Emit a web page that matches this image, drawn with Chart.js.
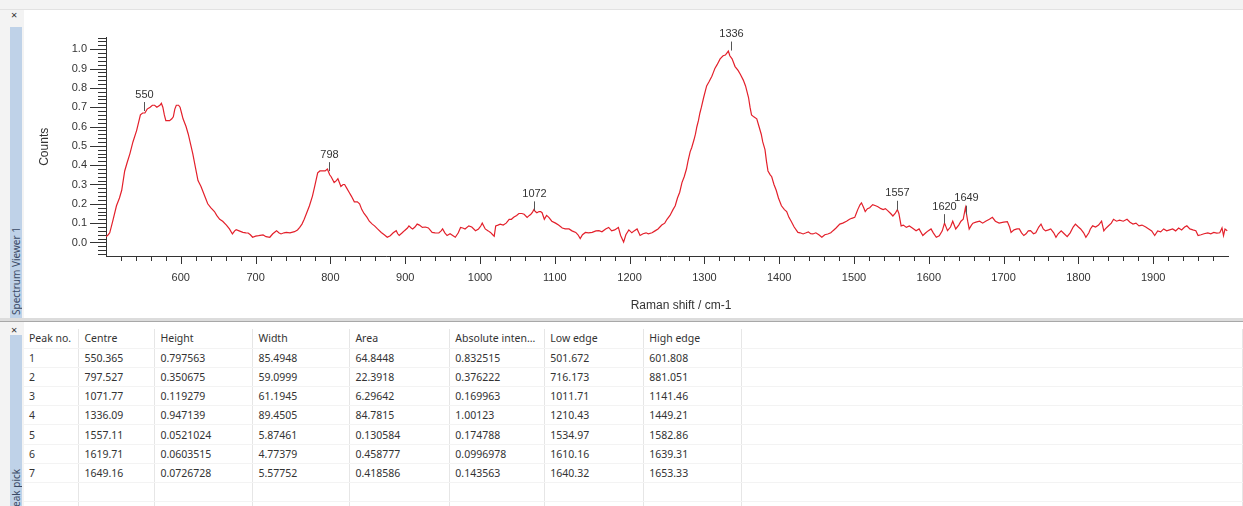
<!DOCTYPE html>
<html>
<head>
<meta charset="utf-8">
<script src="https://cdn.jsdelivr.net/npm/chart.js@4.4.1/dist/chart.umd.min.js"></script>
<style>
  body { margin: 0; width: 1243px; height: 506px; overflow: hidden; background: #fff; position: relative; font-family: 'Noto Sans', sans-serif; }
  .topbar { position: absolute; left: 0; top: 0; width: 1243px; height: 9px; background: #f3f3f3; border-bottom: 1px solid #e2e2e2; }
  .side { position: absolute; left: 0; width: 24px; background: #f3f3f3; }
  .close { position: absolute; left: 11px; font-size: 11px; line-height: 11px; color: #333; }
  .tab { position: absolute; left: 10px; width: 12px; background: #bfd2e8; overflow: hidden; }
  .tab span { position: absolute; left: 0; transform: rotate(-90deg); transform-origin: left top; white-space: nowrap; font-size: 10px; line-height: 12px; color: #3a4a66; }
  .divider { position: absolute; left: 0; top: 318px; width: 1243px; height: 3px; background: #dcdcdc; border-bottom: 1px solid #a8a8a8; }
  #chart-raman { position: absolute; left: 22px; top: 12px; }
  table { position: absolute; left: 24px; top: 329px; border-collapse: collapse; font-size: 10.5px; color: #333; }
  td { height: 19.2px; padding: 0 0 0 5px; border-right: 1px solid #e6e6e6; border-bottom: 1px solid #f3f3f3; white-space: nowrap; box-sizing: border-box; }
</style>
</head>
<body>
<div class="topbar"></div>
<div class="side" style="top:10px;height:308px"></div>
<div class="close" style="top:9px">×</div>
<div class="tab" style="top:27px;height:291px"><span style="top:288px">Spectrum Viewer 1</span></div>
<canvas id="chart-raman" width="1221" height="306" style="width:1221px;height:306px"></canvas>
<div class="divider"></div>
<div class="side" style="top:322px;height:184px"></div>
<div class="close" style="top:324px">×</div>
<div class="tab" style="top:335px;height:171px"><span style="top:178px">Peak pick</span></div>
<table id="peak-table"></table>

<script>
/* ---------- Espectro Raman ---------- */
const ramanShift = [
  500,503,505,509,514,518,521,525,528,532,536,541,546,549,552,555,559,562,565,568,572,574,576,578,580,583,585,588,590,592,594,597,599,
  601,603,607,610,613,616,620,623,627,630,633,636,640,645,648,652,656,661,665,669,672,674,678,683,687,690,693,696,700,
  704,710,714,719,723,728,731,734,738,741,746,752,756,759,762,765,768,772,776,779,783,786,790,793,796,799,
  801,805,808,810,812,814,817,819,822,825,828,832,836,839,842,845,849,852,856,859,863,868,872,876,880,884,888,890,892,896,899,
  903,905,908,910,913,916,919,923,927,931,936,940,945,948,950,953,956,960,964,967,971,974,977,980,985,989,994,998,
  1001,1003,1007,1011,1014,1017,1019,1021,1024,1027,1031,1035,1039,1042,1045,1049,1052,1056,1059,1063,1066,1068,1070,1072,1074,1076,1079,1081,1083,1086,1089,1092,1096,
  1101,1105,1110,1114,1119,1123,1128,1131,1134,1137,1141,1145,1150,1155,1159,1163,1168,1172,1176,1180,1185,1188,1192,1195,1199,
  1203,1206,1210,1214,1218,1222,1225,1230,1234,1238,1243,1247,1250,1254,1258,1261,1264,1267,1270,1273,1276,1278,1281,1283,1286,1288,1290,1292,1294,1296,1299,
  1303,1306,1310,1312,1314,1317,1321,1325,1328,1330,1332,1334,1337,1341,1345,1348,1352,1355,1359,1361,1363,1366,1370,1373,1376,1378,1381,1383,1385,1388,1390,1393,1396,1399,
  1403,1407,1410,1413,1416,1420,1425,1428,1432,1436,1439,1442,1445,1449,1453,1457,1461,1465,1469,1472,1476,1481,1485,1490,1494,1497,
  1501,1503,1505,1508,1510,1513,1515,1518,1521,1525,1529,1532,1536,1539,1542,1545,1549,1552,1555,1558,1560,1563,1566,1570,1574,1578,1583,1587,1592,1596,1599,
  1603,1606,1610,1614,1618,1621,1625,1629,1632,1636,1640,1643,1646,1649,1652,1654,1657,1659,1663,1668,1672,1676,1681,1685,1689,1694,1700,
  1705,1708,1710,1714,1718,1721,1724,1727,1730,1733,1736,1740,1743,1747,1750,1753,1756,1760,1763,1767,1770,1773,1777,1781,1785,1789,1793,1796,1800,
  1803,1807,1810,1814,1816,1819,1823,1827,1831,1834,1836,1840,1844,1847,1851,1855,1860,1865,1869,1873,1877,1881,1885,1890,1894,1898,
  1902,1906,1910,1914,1918,1922,1926,1930,1934,1938,1942,1945,1949,1953,1957,1960,1964,1968,1973,1977,1981,1985,1989,1992,1994,1996,1999
];
const counts = [
  0.03,0.04,0.05,0.11,0.19,0.23,0.27,0.37,0.41,0.46,0.52,0.58,0.66,0.67,0.67,0.69,0.70,0.71,0.71,0.70,0.71,0.72,0.70,0.66,0.63,0.63,0.63,0.64,0.65,0.69,0.71,0.71,0.70,
  0.67,0.64,0.60,0.56,0.51,0.46,0.38,0.32,0.29,0.26,0.23,0.20,0.18,0.16,0.14,0.12,0.11,0.09,0.07,0.044,0.06,0.066,0.06,0.052,0.05,0.049,0.04,0.027,0.033,
  0.035,0.039,0.03,0.027,0.045,0.061,0.05,0.044,0.05,0.052,0.05,0.056,0.065,0.078,0.095,0.12,0.15,0.19,0.24,0.29,0.36,0.37,0.37,0.37,0.38,0.35,
  0.34,0.31,0.32,0.33,0.31,0.29,0.30,0.30,0.28,0.26,0.24,0.21,0.21,0.20,0.17,0.15,0.13,0.11,0.095,0.086,0.07,0.052,0.04,0.027,0.035,0.05,0.061,0.045,0.036,0.05,0.061,
  0.075,0.086,0.075,0.07,0.08,0.095,0.09,0.078,0.08,0.075,0.052,0.05,0.049,0.06,0.07,0.05,0.036,0.045,0.035,0.027,0.05,0.078,0.075,0.07,0.086,0.08,0.061,0.07,
  0.085,0.10,0.07,0.06,0.052,0.04,0.032,0.086,0.09,0.095,0.09,0.10,0.12,0.12,0.13,0.14,0.15,0.15,0.146,0.13,0.14,0.146,0.155,0.17,0.16,0.154,0.16,0.16,0.154,0.12,0.14,0.13,0.11,
  0.10,0.09,0.075,0.07,0.07,0.06,0.052,0.04,0.02,0.04,0.052,0.05,0.052,0.06,0.061,0.055,0.07,0.078,0.06,0.065,0.078,0.036,0.002,0.04,0.065,
  0.05,0.06,0.07,0.036,0.045,0.05,0.045,0.05,0.06,0.07,0.09,0.10,0.12,0.14,0.17,0.19,0.23,0.26,0.31,0.34,0.38,0.42,0.47,0.49,0.53,0.56,0.60,0.63,0.67,0.70,0.75,
  0.81,0.83,0.86,0.88,0.90,0.92,0.95,0.966,0.97,0.98,0.99,0.966,0.95,0.91,0.89,0.87,0.84,0.81,0.75,0.70,0.66,0.65,0.64,0.60,0.56,0.52,0.48,0.42,0.37,0.35,0.34,0.30,0.27,0.23,
  0.19,0.17,0.16,0.13,0.11,0.08,0.052,0.05,0.044,0.05,0.055,0.045,0.044,0.05,0.04,0.027,0.04,0.044,0.05,0.061,0.075,0.095,0.10,0.11,0.12,0.125,
  0.13,0.15,0.17,0.195,0.205,0.18,0.16,0.175,0.18,0.196,0.19,0.185,0.175,0.17,0.175,0.165,0.15,0.137,0.15,0.17,0.15,0.086,0.09,0.078,0.085,0.075,0.061,0.07,0.036,0.05,0.06,
  0.07,0.05,0.027,0.035,0.06,0.10,0.061,0.08,0.11,0.07,0.09,0.11,0.12,0.18,0.11,0.07,0.09,0.10,0.105,0.11,0.10,0.11,0.12,0.13,0.11,0.10,0.105,
  0.108,0.08,0.052,0.065,0.07,0.07,0.05,0.036,0.045,0.06,0.061,0.045,0.05,0.08,0.095,0.07,0.06,0.065,0.07,0.05,0.027,0.045,0.06,0.045,0.03,0.05,0.08,0.095,0.08,
  0.07,0.05,0.027,0.05,0.07,0.086,0.08,0.09,0.11,0.06,0.07,0.085,0.10,0.12,0.11,0.115,0.11,0.12,0.105,0.095,0.10,0.086,0.09,0.08,0.07,0.06,
  0.036,0.06,0.055,0.07,0.06,0.065,0.07,0.06,0.075,0.065,0.08,0.086,0.07,0.065,0.061,0.036,0.04,0.045,0.05,0.045,0.052,0.048,0.05,0.075,0.036,0.07,0.061
];

/* ---------- Picos marcados ---------- */
const peakCentre   = [550.365, 797.527, 1071.77, 1336.09, 1557.11, 1619.71, 1649.16];
const peakMarkY    = [0.68, 0.369, 0.166, 0.993, 0.169, 0.10, 0.144];

/* ---------- Tabla "Peak pick" ---------- */
const tableHeaders = ['Peak no.', 'Centre', 'Height', 'Width', 'Area', 'Absolute inten...', 'Low edge', 'High edge', ''];
const colWidths    = [55, 76, 98, 97, 100, 95, 99, 98, 501];
const peakNo       = ['1', '2', '3', '4', '5', '6', '7'];
const centreTxt    = ['550.365', '797.527', '1071.77', '1336.09', '1557.11', '1619.71', '1649.16'];
const heightTxt    = ['0.797563', '0.350675', '0.119279', '0.947139', '0.0521024', '0.0603515', '0.0726728'];
const widthTxt     = ['85.4948', '59.0999', '61.1945', '89.4505', '5.87461', '4.77379', '5.57752'];
const areaTxt      = ['64.8448', '22.3918', '6.29642', '84.7815', '0.130584', '0.458777', '0.418586'];
const absIntTxt    = ['0.832515', '0.376222', '0.169963', '1.00123', '0.174788', '0.0996978', '0.143563'];
const lowEdgeTxt   = ['501.672', '716.173', '1011.71', '1210.43', '1534.97', '1610.16', '1640.32'];
const highEdgeTxt  = ['601.808', '881.051', '1141.46', '1449.21', '1582.86', '1639.31', '1653.33'];

function buildTable() {
  const t = document.getElementById('peak-table');
  const mk = cells => '<tr>' + cells.map((c, i) => `<td style="width:${colWidths[i]}px">${c}</td>`).join('') + '</tr>';
  let html = mk(tableHeaders);
  peakNo.forEach((p, i) => {
    html += mk([p, centreTxt[i], heightTxt[i], widthTxt[i], areaTxt[i], absIntTxt[i], lowEdgeTxt[i], highEdgeTxt[i], '']);
  });
  html += mk(['', '', '', '', '', '', '', '', '']);
  html += mk(['', '', '', '', '', '', '', '', '']);
  t.innerHTML = html;
}
buildTable();

const tickFont = { family: "'Liberation Sans', Arial, sans-serif", size: 11 };

/* ---------- Marcas de ejes (mayores y menores) + título X ---------- */
const axisTicks = {
  id: 'axisTicks',
  afterDraw(chart) {
    const { ctx, scales: { x, y }, chartArea: a } = chart;
    ctx.save();
    ctx.strokeStyle = '#333';
    ctx.lineWidth = 1;
    ctx.beginPath();
    for (let v = 520; v < 2000; v += 20) {
      const px = Math.round(x.getPixelForValue(v)) + 0.5;
      const len = v % 100 === 0 ? 8 : 5;
      ctx.moveTo(px, a.bottom);
      ctx.lineTo(px, a.bottom + len);
    }
    for (let k = -3; k <= 53; k++) {
      const py = Math.round(y.getPixelForValue(k * 0.02)) + 0.5;
      const len = k % 5 === 0 ? 16 : 8;
      ctx.moveTo(a.left, py);
      ctx.lineTo(a.left - len, py);
    }
    ctx.stroke();
    // título del eje X, algo desplazado a la derecha como en el original
    ctx.fillStyle = '#333';
    ctx.font = "12px 'Liberation Sans', Arial, sans-serif";
    ctx.textAlign = 'center';
    ctx.textBaseline = 'middle';
    ctx.fillText('Raman shift / cm-1', (a.left + a.right) / 2 + 14, a.bottom + 50);
    ctx.restore();
  }
};

/* ---------- Etiquetas de picos ---------- */
const peakMarks = {
  id: 'peakMarks',
  afterDatasetsDraw(chart) {
    const { ctx, scales: { x, y } } = chart;
    ctx.save();
    ctx.strokeStyle = '#555';
    ctx.fillStyle = '#333';
    ctx.lineWidth = 1;
    ctx.font = "11px 'Liberation Sans', Arial, sans-serif";
    ctx.textAlign = 'center';
    ctx.textBaseline = 'bottom';
    peakCentre.forEach((c, i) => {
      const px = Math.round(x.getPixelForValue(c)) + 0.5;
      const py = y.getPixelForValue(peakMarkY[i]);
      ctx.beginPath();
      ctx.moveTo(px, py);
      ctx.lineTo(px, py - 9);
      ctx.stroke();
      ctx.fillText(String(Math.round(c)), px, py - 11);
    });
    ctx.restore();
  }
};

new Chart(document.getElementById('chart-raman'), {
  type: 'line',
  data: {
    datasets: [{
      data: ramanShift.map((s, i) => ({ x: s, y: counts[i] })),
      borderColor: '#e3202b',
      borderWidth: 1.2,
      pointRadius: 0,
      tension: 0,
      fill: false
    }]
  },
  options: {
    responsive: false,
    animation: false,
    layout: { padding: { left: 0, right: 12, top: 20, bottom: 0 } },
    plugins: { legend: { display: false }, tooltip: { enabled: false } },
    scales: {
      x: {
        type: 'linear', min: 500, max: 2000,
        grid: { display: false, drawTicks: false, tickLength: 0 },
        border: { display: true, color: '#333', width: 1 },
        ticks: {
          stepSize: 100, includeBounds: false, padding: 15, maxRotation: 0, autoSkip: false,
          color: '#333', font: tickFont,
          callback: v => (v > 500 && v < 2000) ? String(v) : ''
        },
        title: { display: false },
        afterFit: s => { s.height = 62; }
      },
      y: {
        min: -0.07, max: 1.06,
        grid: { display: false, drawTicks: false, tickLength: 0 },
        border: { display: true, color: '#333', width: 1 },
        ticks: {
          stepSize: 0.1, includeBounds: false, padding: 19, autoSkip: false,
          color: '#333', font: tickFont,
          callback: v => (v >= -0.001 && v <= 1.001) ? v.toFixed(1) : ''
        },
        title: { display: true, text: 'Counts', color: '#333', font: { family: tickFont.family, size: 12 }, padding: { top: 15, bottom: 0 } },
        afterFit: s => { s.width = 84; }
      }
    }
  },
  plugins: [axisTicks, peakMarks]
});
</script>
</body>
</html>
